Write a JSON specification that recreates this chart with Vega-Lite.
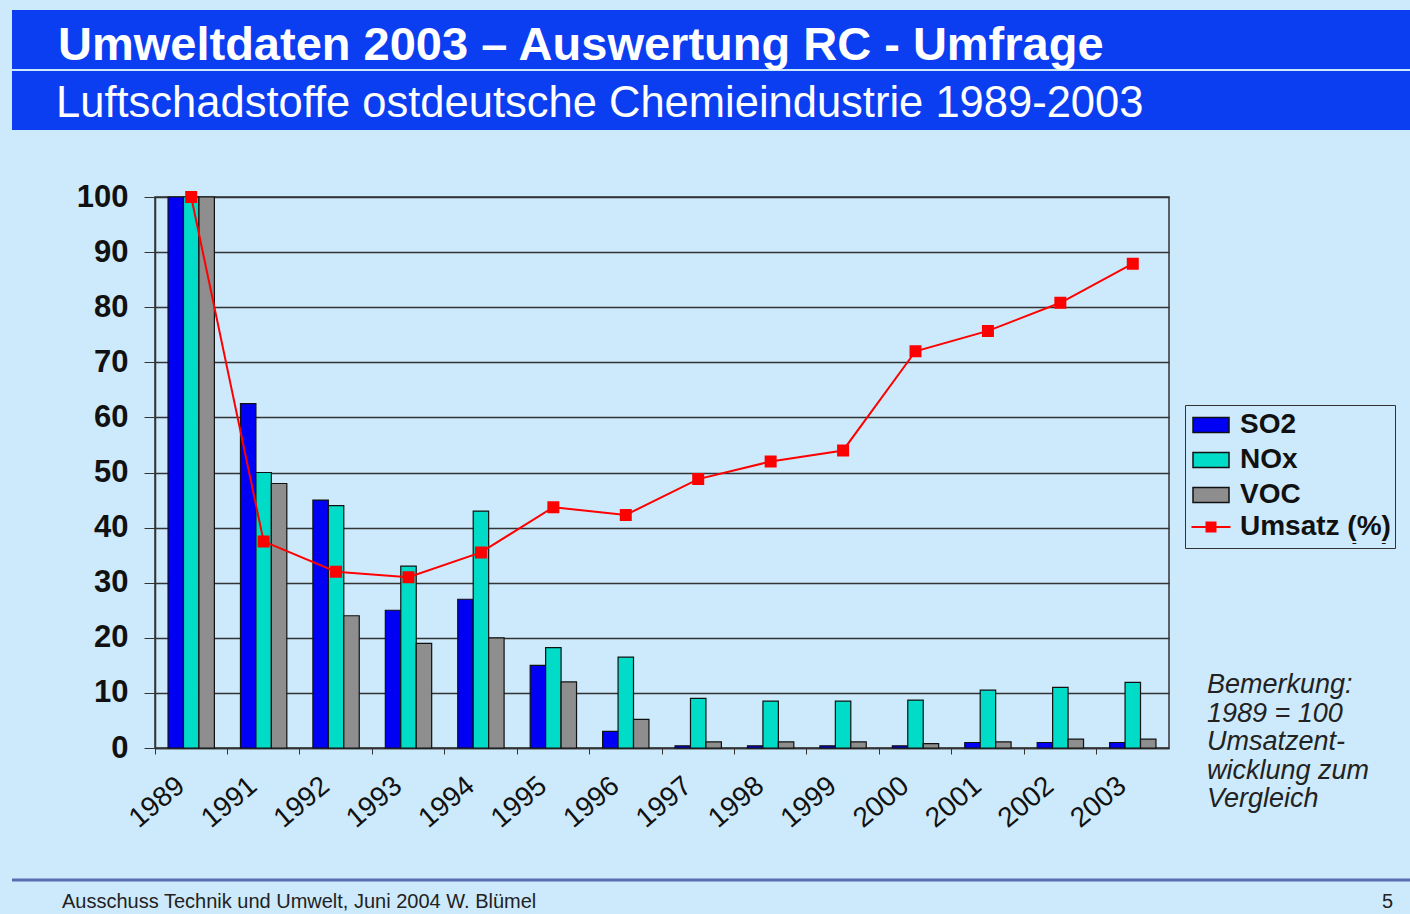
{
  "$schema": "https://vega.github.io/schema/vega-lite/v6.json",
  "background": "#cdeafc",
  "padding": {"left": 10, "top": 10, "right": 0, "bottom": 0},
  "config": {
    "font": "Liberation Sans",
    "view": {"stroke": null}
  },
  "datasets": {
    "bars": [
      {"Jahr": "1989", "Stoff": "SO2", "Wert": 100}, {"Jahr": "1989", "Stoff": "NOx", "Wert": 100}, {"Jahr": "1989", "Stoff": "VOC", "Wert": 100},
      {"Jahr": "1991", "Stoff": "SO2", "Wert": 62.5}, {"Jahr": "1991", "Stoff": "NOx", "Wert": 50}, {"Jahr": "1991", "Stoff": "VOC", "Wert": 48},
      {"Jahr": "1992", "Stoff": "SO2", "Wert": 45}, {"Jahr": "1992", "Stoff": "NOx", "Wert": 44}, {"Jahr": "1992", "Stoff": "VOC", "Wert": 24},
      {"Jahr": "1993", "Stoff": "SO2", "Wert": 25}, {"Jahr": "1993", "Stoff": "NOx", "Wert": 33}, {"Jahr": "1993", "Stoff": "VOC", "Wert": 19},
      {"Jahr": "1994", "Stoff": "SO2", "Wert": 27}, {"Jahr": "1994", "Stoff": "NOx", "Wert": 43}, {"Jahr": "1994", "Stoff": "VOC", "Wert": 20},
      {"Jahr": "1995", "Stoff": "SO2", "Wert": 15}, {"Jahr": "1995", "Stoff": "NOx", "Wert": 18.2}, {"Jahr": "1995", "Stoff": "VOC", "Wert": 12},
      {"Jahr": "1996", "Stoff": "SO2", "Wert": 3}, {"Jahr": "1996", "Stoff": "NOx", "Wert": 16.5}, {"Jahr": "1996", "Stoff": "VOC", "Wert": 5.2},
      {"Jahr": "1997", "Stoff": "SO2", "Wert": 0.4}, {"Jahr": "1997", "Stoff": "NOx", "Wert": 9}, {"Jahr": "1997", "Stoff": "VOC", "Wert": 1.1},
      {"Jahr": "1998", "Stoff": "SO2", "Wert": 0.4}, {"Jahr": "1998", "Stoff": "NOx", "Wert": 8.5}, {"Jahr": "1998", "Stoff": "VOC", "Wert": 1.1},
      {"Jahr": "1999", "Stoff": "SO2", "Wert": 0.4}, {"Jahr": "1999", "Stoff": "NOx", "Wert": 8.5}, {"Jahr": "1999", "Stoff": "VOC", "Wert": 1.1},
      {"Jahr": "2000", "Stoff": "SO2", "Wert": 0.4}, {"Jahr": "2000", "Stoff": "NOx", "Wert": 8.7}, {"Jahr": "2000", "Stoff": "VOC", "Wert": 0.8},
      {"Jahr": "2001", "Stoff": "SO2", "Wert": 1}, {"Jahr": "2001", "Stoff": "NOx", "Wert": 10.5}, {"Jahr": "2001", "Stoff": "VOC", "Wert": 1.1},
      {"Jahr": "2002", "Stoff": "SO2", "Wert": 1}, {"Jahr": "2002", "Stoff": "NOx", "Wert": 11}, {"Jahr": "2002", "Stoff": "VOC", "Wert": 1.6},
      {"Jahr": "2003", "Stoff": "SO2", "Wert": 1}, {"Jahr": "2003", "Stoff": "NOx", "Wert": 11.9}, {"Jahr": "2003", "Stoff": "VOC", "Wert": 1.6}
    ],
    "umsatz": [
      {"Jahr": "1989", "Umsatz": 100}, {"Jahr": "1991", "Umsatz": 37.5}, {"Jahr": "1992", "Umsatz": 32},
      {"Jahr": "1993", "Umsatz": 31}, {"Jahr": "1994", "Umsatz": 35.5}, {"Jahr": "1995", "Umsatz": 43.7},
      {"Jahr": "1996", "Umsatz": 42.3}, {"Jahr": "1997", "Umsatz": 48.8}, {"Jahr": "1998", "Umsatz": 52},
      {"Jahr": "1999", "Umsatz": 54}, {"Jahr": "2000", "Umsatz": 72}, {"Jahr": "2001", "Umsatz": 75.7},
      {"Jahr": "2002", "Umsatz": 80.8}, {"Jahr": "2003", "Umsatz": 87.9}
    ],
    "header": [
      {"row": 1, "text": "Umweltdaten 2003 – Auswertung RC - Umfrage"},
      {"row": 2, "text": "Luftschadstoffe ostdeutsche Chemieindustrie 1989-2003"}
    ]
  },
  "spacing": 67,
  "bounds": "flush",
  "resolve": {
    "scale": {"color": "independent", "stroke": "independent"},
    "legend": {"color": "independent", "stroke": "independent"}
  },
  "vconcat": [
    {
      "width": 1257,
      "height": 120,
      "data": {"name": "header"},
      "encoding": {
        "y": {"field": "row", "type": "ordinal", "axis": null, "scale": {"paddingInner": 0.03, "paddingOuter": 0}}
      },
      "layer": [
        {"mark": {"type": "rect", "color": "#0b3ef0"}, "encoding": {"x": {"value": -143}, "x2": {"value": 1257}}},
        {
          "transform": [{"filter": "datum.row === 1"}],
          "mark": {"type": "text", "align": "left", "baseline": "middle", "color": "white", "fontSize": 47, "fontWeight": "bold", "dy": 6},
          "encoding": {"x": {"value": -97}, "text": {"field": "text"}}
        },
        {
          "transform": [{"filter": "datum.row === 2"}],
          "mark": {"type": "text", "align": "left", "baseline": "middle", "color": "white", "fontSize": 43.5, "dy": 4},
          "encoding": {"x": {"value": -99}, "text": {"field": "text"}}
        }
      ]
    },
    {
      "width": 1014,
      "height": 551,
      "view": {"stroke": "#333333", "strokeWidth": 1.5},
      "encoding": {
        "x": {
          "field": "Jahr", "type": "ordinal", "title": null,
          "scale": {"paddingInner": 0.36, "paddingOuter": 0.18},
          "axis": {
            "bandPosition": -0.28, "labelOffset": -10,
            "labelAngle": -40, "labelAlign": "right", "labelBaseline": "middle",
            "labelFontSize": 28, "labelColor": "#111", "labelPadding": 28,
            "tickSize": 6, "tickColor": "#333", "domainColor": "#333", "domainWidth": 1.5
          }
        }
      },
      "layer": [
        {
          "data": {"name": "bars"},
          "mark": {"type": "bar", "stroke": "#111111", "strokeWidth": 1.2},
          "encoding": {
            "xOffset": {"field": "Stoff", "type": "nominal", "scale": {"domain": ["SO2", "NOx", "VOC"]}},
            "y": {
              "field": "Wert", "type": "quantitative", "title": null,
              "scale": {"domain": [0, 100], "nice": false},
              "axis": {
                "values": [0, 10, 20, 30, 40, 50, 60, 70, 80, 90, 100],
                "labelFontSize": 31, "labelFontWeight": "bold", "labelColor": "#111",
                "tickSize": 11, "tickColor": "#333", "labelPadding": 16,
                "domainColor": "#333", "domainWidth": 1.5,
                "gridColor": "#333333", "gridWidth": 1.3, "minExtent": 143
              }
            },
            "color": {
              "field": "Stoff", "type": "nominal",
              "scale": {"domain": ["SO2", "NOx", "VOC", "Umsatz (%)"], "range": ["#0000f5", "#00dcc8", "#8e8e8e", "#cdeafc"]},
              "legend": {
                "title": null, "orient": "none", "legendX": 1030, "legendY": 208,
                "strokeColor": "#333333", "fillColor": "#cdeafc", "padding": 4,
                "labelFontSize": 28, "labelFontWeight": "bold", "labelColor": "#111",
                "symbolType": "M-1.2,-0.5H1.2V0.5H-1.2Z",
                "symbolSize": 900, "rowPadding": 5, "labelOffset": 13, "symbolOffset": 6
              }
            }
          }
        },
        {
          "data": {"name": "umsatz"},
          "mark": {"type": "line", "strokeWidth": 2, "point": {"shape": "square", "size": 100, "filled": true, "color": "#ff0000"}},
          "encoding": {
            "y": {"field": "Umsatz", "type": "quantitative"},
            "stroke": {
              "datum": "Umsatz (%)",
              "scale": {"domain": ["Umsatz (%)"], "range": ["#ff0000"]},
              "legend": {
                "title": null, "orient": "none", "legendX": 1032, "legendY": 312,
                "padding": 2, "fillColor": "#cdeafc",
                "labelFontSize": 28, "labelFontWeight": "bold", "labelColor": "#111",
                "symbolType": "M-1.3,0H1.3M-0.3,-0.3H0.3V0.3H-0.3Z",
                "symbolSize": 900, "labelOffset": 13, "symbolOffset": 6, "symbolStrokeWidth": 2,
                "symbolFillColor": "#ff0000"
              }
            }
          }
        },
        {
          "data": {"values": [{"note": "Bemerkung"}]},
          "mark": {"type": "text", "align": "left", "baseline": "top", "fontSize": 27, "fontStyle": "italic", "color": "#222", "lineHeight": 28.5},
          "encoding": {
            "x": {"value": 1052},
            "y": {"value": 475},
            "text": {"value": ["Bemerkung:", "1989 = 100", "Umsatzent-", "wicklung zum", "Vergleich"]}
          }
        }
      ]
    },
    {
      "width": 1257,
      "height": 99,
      "data": {"values": [{"footer": 1}]},
      "layer": [
        {"mark": {"type": "rule", "color": "#5b6cb3", "strokeWidth": 3}, "encoding": {"x": {"value": -143}, "x2": {"value": 1257}, "y": {"value": 65}}},
        {
          "mark": {"type": "text", "align": "left", "baseline": "alphabetic", "fontSize": 20, "color": "#222"},
          "encoding": {"x": {"value": -93}, "y": {"value": 93}, "text": {"value": "Ausschuss Technik und Umwelt, Juni 2004 W. Blümel"}}
        },
        {
          "mark": {"type": "text", "align": "left", "baseline": "alphabetic", "fontSize": 20, "color": "#222"},
          "encoding": {"x": {"value": 1227}, "y": {"value": 93}, "text": {"value": "5"}}
        }
      ]
    }
  ]
}
